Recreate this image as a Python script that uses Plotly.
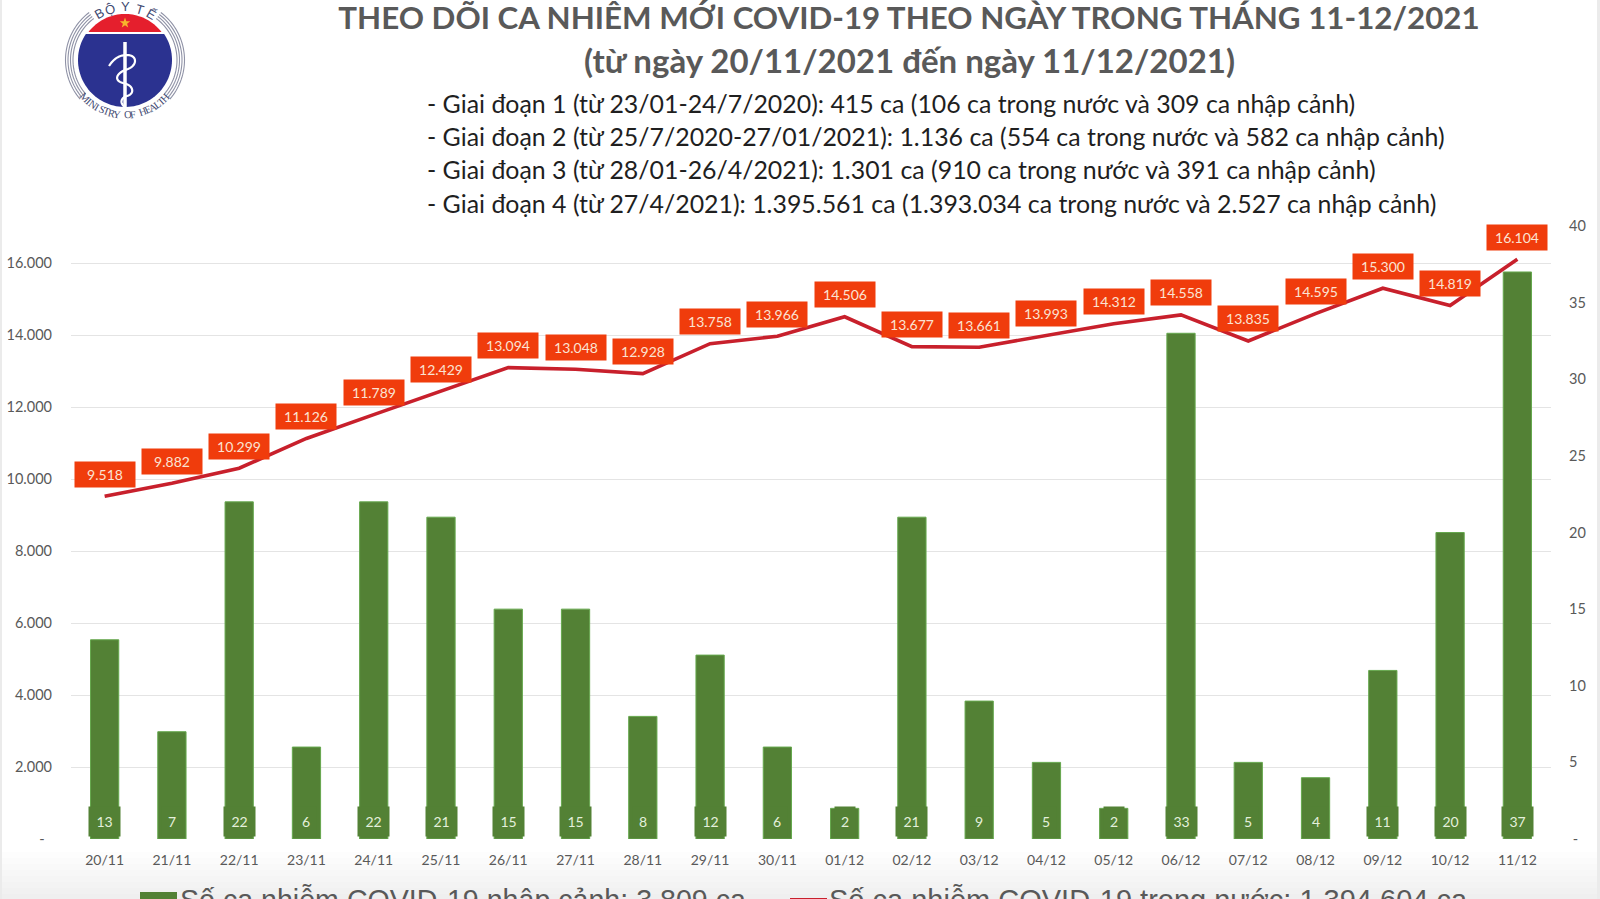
import numpy as np
import plotly.graph_objects as go

dates = ["20/11","21/11","22/11","23/11","24/11","25/11","26/11","27/11","28/11","29/11","30/11",
         "01/12","02/12","03/12","04/12","05/12","06/12","07/12","08/12","09/12","10/12","11/12"]
domestic_cases = [9518,9882,10299,11126,11789,12429,13094,13048,12928,13758,13966,
                  14506,13677,13661,13993,14312,14558,13835,14595,15300,14819,16104]
imported_cases = [13,7,22,6,22,21,15,15,8,12,6,2,21,9,5,2,33,5,4,11,20,37]
left_ticks = [0,2000,4000,6000,8000,10000,12000,14000,16000]
left_tick_labels = ["-\u00a0\u00a0","2.000","4.000","6.000","8.000","10.000","12.000","14.000","16.000"]
right_ticks = [0,5,10,15,20,25,30,35,40]
right_tick_labels = ["\u00a0-","5","10","15","20","25","30","35","40"]
title_text = "THEO DÕI CA NHIỄM MỚI COVID-19 THEO NGÀY TRONG THÁNG 11-12/2021"
subtitle_text = "(từ ngày 20/11/2021 đến ngày 11/12/2021)"
phase_lines = [
    "- Giai đoạn 1 (từ 23/01-24/7/2020): 415 ca (106 ca trong nước và 309 ca nhập cảnh)",
    "- Giai đoạn 2 (từ 25/7/2020-27/01/2021): 1.136 ca (554 ca trong nước và 582 ca nhập cảnh)",
    "- Giai đoạn 3 (từ 28/01-26/4/2021): 1.301 ca (910 ca trong nước và 391 ca nhập cảnh)",
    "- Giai đoạn 4 (từ 27/4/2021): 1.395.561 ca (1.393.034 ca trong nước và 2.527 ca nhập cảnh)",
]
imported_name = "Số ca nhiễm COVID-19 nhập cảnh: 3.809 ca"
domestic_name = "Số ca nhiễm COVID-19 trong nước: 1.394.604 ca"

W, H = 1600, 899
L, R, T, B = 71, 1551, 226, 839
LEFT_MAX = (B - T) / 0.036
GREEN, RED, LABEL_RED, GREY = "#538135", "#C8202C", "#F03C0C", "#595959"

def vi(n):
    return f"{n:,}".replace(",", ".")
def px(x):
    return (x - L) / (R - L)
def py(y):
    return (B - y) / (B - T)
def path(points, close=True):
    s = "M " + " L ".join(f"{px(x):.5f},{py(y):.5f}" for x, y in points)
    return s + (" Z" if close else "")
def arc(cx, cy, r, a0, a1, n=40):
    a = np.radians(np.linspace(a0, a1, n))
    return [(cx + r * np.cos(t), cy - r * np.sin(t)) for t in a]

fig = go.Figure()
fig.add_trace(go.Bar(x=dates, y=imported_cases, name=imported_name, yaxis="y", width=0.42,
                     marker=dict(color=GREEN, line=dict(color="#66A84E", width=1)),
                     showlegend=False))
fig.add_trace(go.Scatter(x=dates, y=domestic_cases, name=domestic_name, yaxis="y2", mode="lines",
                         line=dict(color=RED, width=3.6), showlegend=False))

ann = []
for d, v in zip(dates, domestic_cases):
    ann.append(dict(x=d, y=v, xref="x", yref="y2", yshift=22, text=vi(v), showarrow=False,
                    width=60, height=25, bgcolor=LABEL_RED, borderpad=0,
                    font=dict(family="Lato", size=14, color="#FBE3D3")))
for d, v in zip(dates, imported_cases):
    ann.append(dict(x=d, y=0, xref="x", yref="y", yshift=17.5, text=str(v), showarrow=False,
                    width=31 if v >= 10 else 20, height=29, bgcolor=GREEN, borderpad=0,
                    font=dict(family="Lato", size=14, color="#E4F0DC")))
ann.append(dict(x=px(909), y=py(60), xref="paper", yref="paper", text=subtitle_text, showarrow=False,
                xanchor="center", yanchor="middle",
                font=dict(family="Lato", size=33, color=GREY, weight="bold")))
for i, line in enumerate(phase_lines):
    ann.append(dict(x=px(425), y=py(103 + 33.2 * i), xref="paper", yref="paper", text=line,
                    xanchor="left", yanchor="middle", showarrow=False, align="left",
                    font=dict(family="Lato", size=24.9, color="#1f1f1f")))
ann.append(dict(x=px(178), y=py(899.5), xref="paper", yref="paper", text=imported_name, xanchor="left",
                yanchor="middle", showarrow=False, font=dict(family="Liberation Sans", size=28.6, color=GREY)))
ann.append(dict(x=px(827), y=py(899.5), xref="paper", yref="paper", text=domestic_name, xanchor="left",
                yanchor="middle", showarrow=False, font=dict(family="Liberation Sans", size=29, color=GREY)))

# logo lettering
CX, CY = 125, 60
for ch, off in zip("BỘYTẾ", [-29, -16, 0, 16, 30]):
    t = np.radians(off)
    ann.append(dict(x=px(CX + 53 * np.sin(t)), y=py(CY - 53 * np.cos(t)), xref="paper", yref="paper",
                    xanchor="center", yanchor="middle", text=ch, textangle=off, showarrow=False,
                    font=dict(family="Liberation Sans", size=13, color="#3F4A72")))
word = "MINISTRY OF HEALTH"
for i, ch in enumerate(word):
    if ch == " ":
        continue
    off = -47 + i * 94 / (len(word) - 1)
    t = np.radians(off)
    ann.append(dict(x=px(CX + 55 * np.sin(t)), y=py(CY + 55 * np.cos(t)), xref="paper", yref="paper",
                    xanchor="center", yanchor="middle", text=ch, textangle=-off, showarrow=False,
                    font=dict(family="Liberation Serif", size=10.5, color="#3F4A72")))

shapes = []
# soft photographic falloff at the page edges
for y0 in range(852, 899, 6):
    shapes.append(dict(type="rect", xref="paper", yref="paper", layer="below", x0=px(0), x1=px(W),
                       y0=py(y0), y1=py(H), fillcolor="rgba(0,0,0,0.008)", line_width=0))
for a, b in ((0, 2), (1597, 1600)):
    shapes.append(dict(type="rect", xref="paper", yref="paper", layer="below", x0=px(a), x1=px(b),
                       y0=py(0), y1=py(H), fillcolor="#EBEBEB", line_width=0))
# legend swatches
shapes.append(dict(type="rect", xref="paper", yref="paper", x0=px(140), x1=px(177), y0=py(892), y1=py(900),
                   fillcolor=GREEN, line_width=0))
shapes.append(dict(type="line", xref="paper", yref="paper", x0=px(790), x1=px(827), y0=py(900), y1=py(900),
                   line=dict(color=RED, width=4)))
# logo
for r in (52, 54.5, 57, 59.5):
    for a0, a1 in ((127, 221), (53, -41)):
        shapes.append(dict(type="path", xref="paper", yref="paper", path=path(arc(CX, CY, r, a0, a1), False),
                           line=dict(color="#8F92A6", width=1.1)))
shapes.append(dict(type="circle", xref="paper", yref="paper", x0=px(CX - 49), x1=px(CX + 49),
                   y0=py(CY + 49), y1=py(CY - 49), fillcolor="white", line_width=0))
a_red = np.degrees(np.arcsin(28 / 46))
shapes.append(dict(type="path", xref="paper", yref="paper", path=path(arc(CX, CY, 46, a_red, 180 - a_red)),
                   fillcolor="#E51F2D", line_width=0))
a_blue = np.degrees(np.arcsin(26 / 47))
shapes.append(dict(type="path", xref="paper", yref="paper", path=path(arc(CX, CY, 47, 180 - a_blue, 360 + a_blue, 80)),
                   fillcolor="#2B3290", line_width=0))
star = [(CX + (5.5 if i % 2 == 0 else 2.2) * np.sin(i * np.pi / 5),
         23 - (5.5 if i % 2 == 0 else 2.2) * np.cos(i * np.pi / 5)) for i in range(10)]
shapes.append(dict(type="path", xref="paper", yref="paper", path=path(star), fillcolor="#F7B52C", line_width=0))
shapes.append(dict(type="line", xref="paper", yref="paper", x0=px(CX), x1=px(CX), y0=py(42), y1=py(107),
                   line=dict(color="white", width=3.5)))
def bez(*pts, n=16):
    out = []
    for i in range(0, len(pts) - 3, 3):
        p = np.array(pts[i:i + 4], float)
        for t in np.linspace(0, 1, n):
            out.append(tuple((1 - t) ** 3 * p[0] + 3 * (1 - t) ** 2 * t * p[1] + 3 * (1 - t) * t ** 2 * p[2] + t ** 3 * p[3]))
    return out
snake = bez((109, 66), (113, 60), (118, 55), (127, 55), (137, 55), (138, 65), (128, 69),
            (115, 73), (114, 81), (123, 83), (134, 85), (135, 94), (127, 96), (120, 98), (120, 104), (125, 107))
shapes.append(dict(type="path", xref="paper", yref="paper", path=path(snake, False),
                   line=dict(color="white", width=2.2)))

fig.update_layout(
    width=W, height=H, autosize=False,
    margin=dict(l=L, r=W - R, t=T, b=H - B),
    paper_bgcolor="white", plot_bgcolor="rgba(0,0,0,0)", bargap=0.58,
    title=dict(text=title_text, x=909 / W, xanchor="center", xref="container", yref="container",
               y=1 - 18 / H, yanchor="middle",
               font=dict(family="Lato", size=31.3, color=GREY, weight="bold")),
    xaxis=dict(type="category", categoryorder="array", categoryarray=dates, range=[-0.5, 21.5],
               showgrid=False, zeroline=False, showline=False, ticks="", ticklabelstandoff=11, automargin=False,
               tickfont=dict(family="Lato", size=14, color=GREY)),
    yaxis=dict(side="right", range=[0, 40], tickvals=right_ticks, ticktext=right_tick_labels, automargin=False,
               showgrid=False, zeroline=False, ticks="", ticklabelstandoff=17,
               tickfont=dict(family="Lato", size=14.5, color=GREY)),
    yaxis2=dict(side="left", overlaying="y", range=[0, LEFT_MAX], tickvals=left_ticks, ticktext=left_tick_labels,
                automargin=False, showgrid=True, gridcolor="#E4E4E4", gridwidth=1, zeroline=False, ticks="",
                ticklabelstandoff=18, tickfont=dict(family="Lato", size=14.5, color=GREY)),
    annotations=ann, shapes=shapes,
)
fig.write_html("out.html", config={"displayModeBar": False},
               post_script="document.body.style.margin='0';document.body.style.overflow='hidden';")
